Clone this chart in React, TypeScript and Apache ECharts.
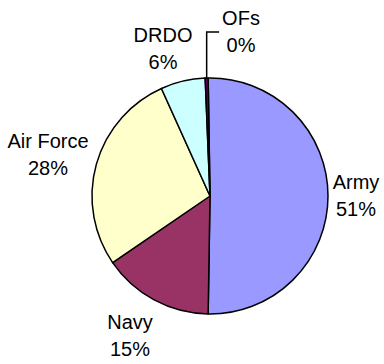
import React, { useEffect, useRef } from "react";
import * as echarts from "echarts";

const categories = ["Army", "Navy", "Air Force", "DRDO", "OFs"];
const values = [50.5, 15.2, 27.8, 6.1, 0.4];
const colors = ["#9999ff", "#993366", "#ffffcc", "#ccffff", "#660066"];

// label centre positions (layout only)
const labelPos: number[][] = [
  [356, 195],
  [130, 335],
  [48, 154],
  [163, 48],
  [241, 31],
];

export default function App() {
  const ref = useRef<HTMLDivElement>(null);
  useEffect(() => {
    if (!ref.current) return;
    const chart = echarts.init(ref.current, undefined, { renderer: "svg" });
    const ofsIndex = categories.indexOf("OFs");
    chart.setOption({
      animation: false,
      backgroundColor: "#ffffff",
      series: [
        {
          type: "pie",
          center: [210, 196],
          radius: 118,
          startAngle: 90.9,
          clockwise: true,
          avoidLabelOverlap: false,
          percentPrecision: 0,
          itemStyle: { borderColor: "#000", borderWidth: 1.5 },
          label: {
            show: true,
            position: "outside",
            formatter: "{b}\n{d}%",
            fontFamily: "Liberation Sans, Arial, sans-serif",
            fontSize: 20,
            lineHeight: 27,
            color: "#000",
            align: "center",
          },
          labelLine: { show: false, length: 20, length2: 10 },
          labelLayout: (params: any) => {
            const i = params.dataIndex;
            const p = labelPos[i];
            const res: any = { x: p[0], y: p[1], align: "center", verticalAlign: "middle" };
            if (i === ofsIndex && params.labelLinePoints) {
              const p0 = params.labelLinePoints[0];
              const left = params.labelRect ? p[0] - params.labelRect.width / 2 - 3 : p[0] - 22;
              res.labelLinePoints = [
                [p0[0], p0[1]],
                [p0[0], p[1] + 1],
                [left, p[1] + 1],
              ];
            }
            return res;
          },
          data: categories.map((name, i) => ({
            name,
            value: values[i],
            itemStyle: { color: colors[i] },
            labelLine:
              i === ofsIndex
                ? { show: true, lineStyle: { color: "#000", width: 1.5 } }
                : { show: false },
          })),
        },
      ],
    });
    return () => chart.dispose();
  }, []);
  return (
    <div
      ref={ref}
      style={{ position: "fixed", left: 0, top: 0, width: 384, height: 364 }}
    />
  );
}
